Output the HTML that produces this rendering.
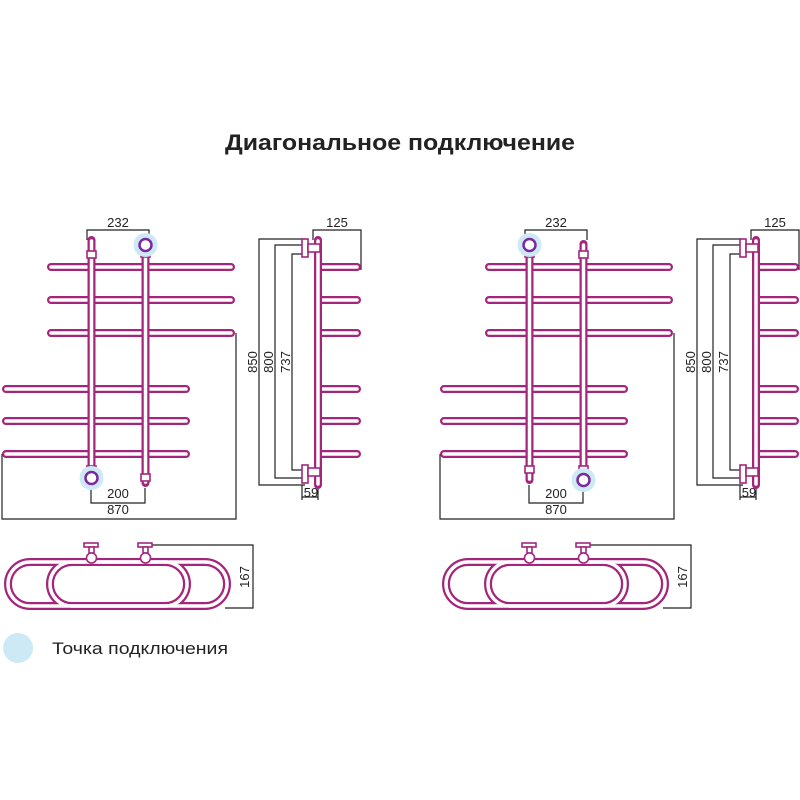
<!DOCTYPE html>
<html><head><meta charset="utf-8"><style>
html,body{margin:0;padding:0;background:#fff}
svg{display:block}
text{font-family:"Liberation Sans","DejaVu Sans",sans-serif;fill:#222}
</style></head><body>
<svg width="800" height="800" viewBox="0 0 800 800" xmlns="http://www.w3.org/2000/svg">
<defs>
<g id="unit">
  <g stroke="#222" stroke-width="1.2" fill="none">
    <path d="M87 240V230H149V240"/>
    <path d="M91 485V503H145V488"/>
    <path d="M2 454V519H236V333"/>
    <path d="M305 239H259V485H305"/>
    <path d="M305 245H275V478H305"/>
    <path d="M305 254H292V470H305"/>
    <path d="M313 240V230H361V270"/>
    <path d="M302 485V500M318 485V500M302 497H318"/>
    <path d="M150 545H253V608H225"/>
  </g>
  <g stroke="#a3267c" stroke-linecap="round" fill="none">
    <g stroke-width="8">
      <path d="M51 267H231M51 300H231M51 333H231"/>
      <path d="M6 389H186M6 421H186M6 454H186"/>
      <path d="M318 267H357M318 300H357M318 333H357M318 389H357M318 421H357M318 454H357"/>
      <path d="M30 562H165A22 22 0 0 1 165 606H30A22 22 0 0 1 30 562Z"/>
      <path d="M72 562H205A22 22 0 0 1 205 606H72A22 22 0 0 1 72 562Z"/>
    </g>
    <g stroke="#fff" stroke-width="3.5">
      <path d="M51 267H231M51 300H231M51 333H231"/>
      <path d="M6 389H186M6 421H186M6 454H186"/>
      <path d="M322 267H357M322 300H357M322 333H357M322 389H357M322 421H357M322 454H357"/>
      <path d="M30 562H165A22 22 0 0 1 165 606H30A22 22 0 0 1 30 562Z"/>
      <path d="M72 562H205A22 22 0 0 1 205 606H72A22 22 0 0 1 72 562Z"/>
    </g>
    <path stroke-width="8" d="M91.5 240V480M145.5 244V483M318 240V485"/>
    <path stroke="#fff" stroke-width="3.5" d="M91.5 241V479M145.5 245V482M318 241V484"/>
  </g>
  <g stroke="#a3267c" stroke-width="1.6" fill="#fff">
    <rect x="302" y="239" width="6" height="18"/>
    <rect x="308" y="244" width="12" height="8"/>
    <rect x="302" y="465" width="6" height="18"/>
    <rect x="308" y="468" width="12" height="8"/>
    <rect x="84" y="543" width="14" height="4"/>
    <rect x="89" y="547" width="5" height="6"/>
    <circle cx="91.5" cy="558" r="5"/>
    <rect x="138" y="543" width="14" height="4"/>
    <rect x="143" y="547" width="5" height="6"/>
    <circle cx="145.5" cy="558" r="5"/>
  </g>
</g>
</defs>

<text x="225" y="150" font-size="22" font-weight="bold" textLength="350" lengthAdjust="spacingAndGlyphs">Диагональное подключение</text>

<use href="#unit"/>
<use href="#unit" transform="translate(438,0)"/>

<g stroke="#a3267c" stroke-width="1.6" fill="#fff">
  <rect x="87" y="251" width="9" height="7"/>
  <rect x="141" y="474" width="9" height="7"/>
  <rect x="87" y="466" width="9" height="7"/>
  <rect x="141" y="251" width="9" height="6"/>
  <rect x="579" y="251" width="9" height="7"/>
  <rect x="525" y="466" width="9" height="7"/>
  <rect x="525" y="251" width="9" height="6"/>
  <rect x="579" y="466" width="9" height="6"/>
</g>
<g>
  <circle cx="145.5" cy="245" r="12" fill="#cde9f6"/>
  <circle cx="145.5" cy="245" r="6" fill="#fff" stroke="#7a2a9c" stroke-width="2.5"/>
  <circle cx="91.5" cy="478" r="12" fill="#cde9f6"/>
  <circle cx="91.5" cy="478" r="6" fill="#fff" stroke="#7a2a9c" stroke-width="2.5"/>
  <circle cx="529.5" cy="245" r="12" fill="#cde9f6"/>
  <circle cx="529.5" cy="245" r="6" fill="#fff" stroke="#7a2a9c" stroke-width="2.5"/>
  <circle cx="583.5" cy="480" r="12" fill="#cde9f6"/>
  <circle cx="583.5" cy="480" r="6" fill="#fff" stroke="#7a2a9c" stroke-width="2.5"/>
</g>

<g font-size="13">
  <text x="118" y="227" text-anchor="middle">232</text>
  <text x="118" y="498" text-anchor="middle">200</text>
  <text x="118" y="514" text-anchor="middle">870</text>
  <text x="337" y="227" text-anchor="middle">125</text>
  <text x="311" y="497" text-anchor="middle">59</text>
  <text transform="translate(257,362) rotate(-90)" text-anchor="middle">850</text>
  <text transform="translate(273,362) rotate(-90)" text-anchor="middle">800</text>
  <text transform="translate(290,362) rotate(-90)" text-anchor="middle">737</text>
  <text transform="translate(249,577) rotate(-90)" text-anchor="middle">167</text>

  <text x="556" y="227" text-anchor="middle">232</text>
  <text x="556" y="498" text-anchor="middle">200</text>
  <text x="556" y="514" text-anchor="middle">870</text>
  <text x="775" y="227" text-anchor="middle">125</text>
  <text x="749" y="497" text-anchor="middle">59</text>
  <text transform="translate(695,362) rotate(-90)" text-anchor="middle">850</text>
  <text transform="translate(711,362) rotate(-90)" text-anchor="middle">800</text>
  <text transform="translate(728,362) rotate(-90)" text-anchor="middle">737</text>
  <text transform="translate(687,577) rotate(-90)" text-anchor="middle">167</text>
</g>

<circle cx="18" cy="648" r="15" fill="#cde9f6"/>
<text x="52" y="654" font-size="17" textLength="176" lengthAdjust="spacingAndGlyphs">Точка подключения</text>
</svg>
</body></html>
